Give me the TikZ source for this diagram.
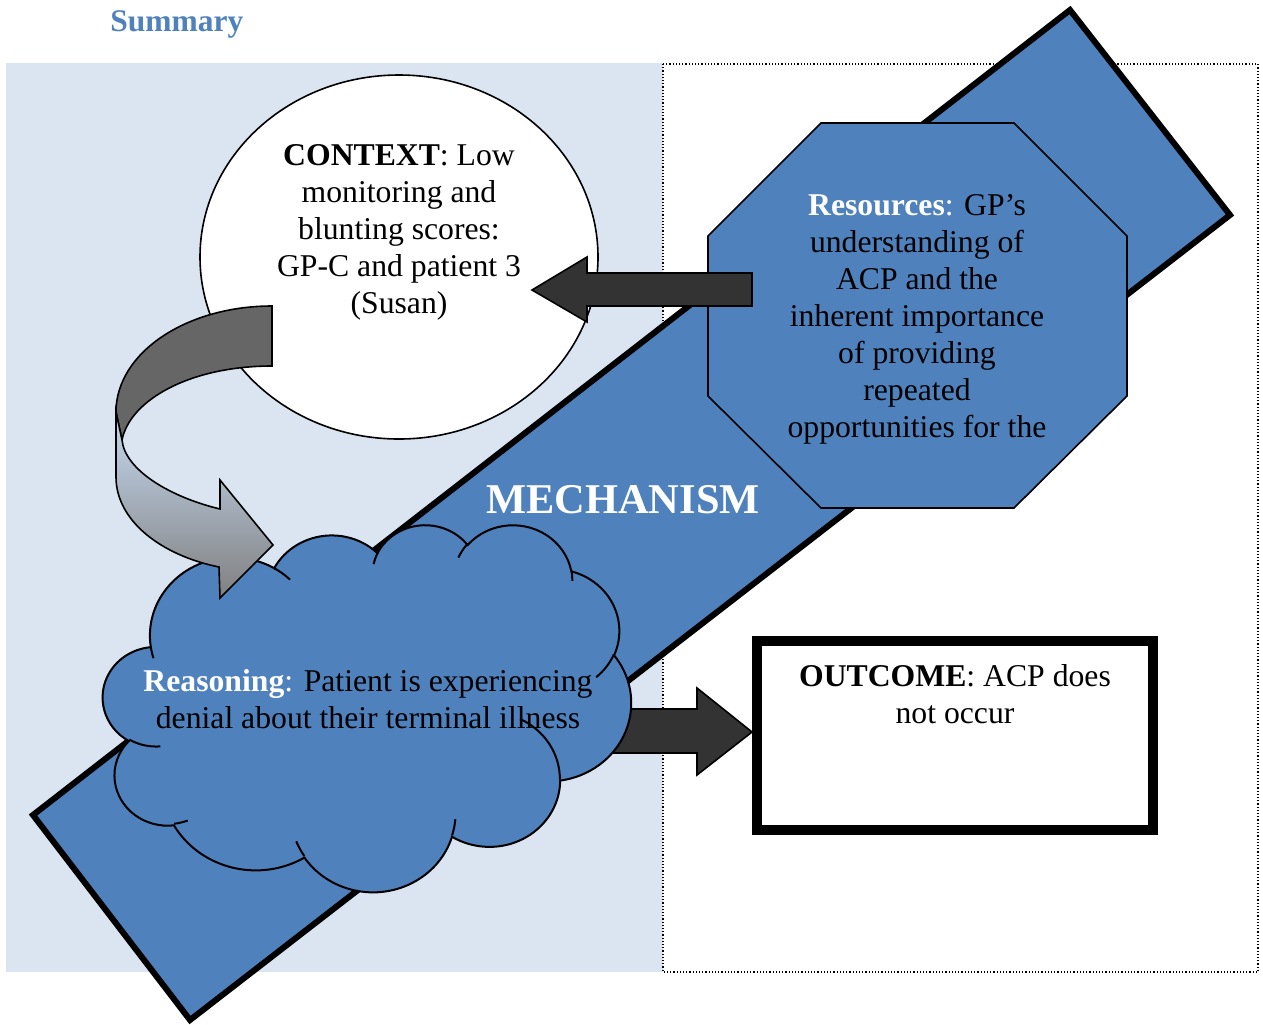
\documentclass[tikz,border=0pt]{standalone}
\usepackage{fontspec}
\setmainfont{Liberation Serif}
\definecolor{panelblue}{RGB}{219,229,241}
\definecolor{mechblue}{RGB}{79,129,189}
\definecolor{arrowdark}{RGB}{51,51,51}
\definecolor{ribbonback}{RGB}{102,102,102}
\definecolor{ribbonlight}{RGB}{198,217,241}
\definecolor{ribbonmid}{RGB}{176,194,218}
\definecolor{ribbongray}{RGB}{128,128,128}
\begin{document}
\begin{tikzpicture}[x=0.5pt,y=-0.5pt,
  bodytext/.style={font=\fontsize{15.85}{18.5}\selectfont, align=center, inner sep=0pt, text=black},
  blockarrow/.style={fill=arrowdark, draw=black, line width=0.8pt, line join=miter},
  outline/.style={draw=black, line width=0.8pt},
  % one elliptical bump of the cloud outline (radii, start angle, sweep)
  cloudarc/.style n args={4}{insert path={arc[start angle={atan2((#1)*sin(#3),(#2)*cos(#3))},
      delta angle={mod(atan2((#1)*sin((#3)+(#4)),(#2)*cos((#3)+(#4)))-atan2((#1)*sin(#3),(#2)*cos(#3))+720,360)},
      x radius=#1, y radius=#2]}}
]
\useasboundingbox (0,0) rectangle (1263,1024);

% panels
\fill[panelblue] (6,63) rectangle (663,972);
\draw[densely dotted, line width=0.6pt, fill=white] (663,64) rectangle (1258,972);
\node[text=mechblue, font=\fontsize{15.75}{18}\selectfont\bfseries, anchor=base west, inner sep=0pt] (summary) at (110,31) {Summary};

% mechanism band
\draw[fill=mechblue, line width=3pt, line join=miter] (33,815) -- (1070,10) -- (1230,215) -- (190,1020) -- cycle;
\node[text=white, font=\fontsize{21.2}{24}\selectfont\bfseries, inner sep=0pt, anchor=base] (mech) at (623,513) {MECHANISM};

% context
\draw[fill=white, outline] (399,257) ellipse [x radius=199, y radius=182];
\node[bodytext] (ctx) at (399,232) {\textbf{CONTEXT}: Low\\monitoring and\\blunting scores:\\GP-C and patient 3\\(Susan)};

% resources
\draw[fill=mechblue, outline] (821,123) -- (1014,123) -- (1127,236) -- (1127,396) -- (1014,508) -- (821,508) -- (708,396) -- (708,236) -- cycle;
\node[bodytext] (res) at (917,319) {\textcolor{white}{\textbf{Resources}:} GP’s\\understanding of\\ACP and the\\inherent importance\\of providing\\repeated\\opportunities for the};

% resources -> context
\draw[blockarrow] (752,273) -- (752,306) -- (587,306) -- (587,322) -- (532,290) -- (587,257) -- (587,273) -- cycle;

% reasoning -> outcome
\draw[blockarrow] (600,709) -- (697,709) -- (697,688) -- (752,732) -- (697,775) -- (697,753) -- (600,753) -- cycle;

% outcome
\draw[line width=5pt, fill=white] (757,641) rectangle (1153,829.5);
\node[bodytext] (outcome) at (955,694) {\textbf{OUTCOME}: ACP does\\not occur};

% reasoning cloud
\begin{scope}[shift={(103,524)}, x=0.61111pt, y=-0.42477pt]
  \draw[fill=mechblue, line width=1pt] (39.00,143.70)
    [cloudarc={67.53}{91.90}{-190.4875}{123.7805}]
    [cloudarc={53.33}{72.67}{-144.1024}{89.9452}]
    [cloudarc={43.65}{59.45}{-145.8079}{99.7230}]
    [cloudarc={48.57}{65.95}{-130.9861}{117.2417}]
    [cloudarc={53.33}{72.73}{-78.7089}{109.0269}]
    [cloudarc={67.75}{92.20}{-46.2673}{130.2690}]
    [cloudarc={57.85}{78.67}{0.6250}{114.0333}]
    [cloudarc={67.52}{92.15}{22.4516}{115.1726}]
    [cloudarc={77.20}{105.43}{66.2426}{75.7110}]
    [cloudarc={43.60}{59.18}{-274.9421}{146.7356}]
    [cloudarc={43.45}{59.45}{-246.8285}{152.5189}] -- cycle;
  \draw[line width=1pt]
    (46.93,261.77) [cloudarc={43.45}{59.45}{86.7420}{26.4295}]
    (69.28,348.99) [cloudarc={43.60}{59.18}{73.6105}{11.4475}]
    (164.78,390.90) [cloudarc={67.52}{92.15}{137.6242}{14.0811}]
    (288.27,347.51) [cloudarc={67.52}{92.15}{6.4533}{15.9984}]
    (341.29,229.54) [cloudarc={57.85}{78.67}{-70.2924}{70.9174}]
    (417.98,153.54) [cloudarc={53.33}{72.73}{30.3180}{27.7515}]
    (383.24,54.26) [cloudarc={48.57}{65.95}{-13.7443}{14.8604}]
    (290.78,39.52) [cloudarc={48.57}{65.95}{-149.1815}{18.1843}]
    (221.41,47.20) [cloudarc={43.65}{59.45}{-163.4943}{17.6976}]
    (140.00,51.92) [cloudarc={67.53}{91.90}{-66.7070}{12.3194}]
    (41.27,157.89) [cloudarc={67.53}{91.90}{157.6544}{11.8582}];
\end{scope}
\node[bodytext] (reason) at (368,699) {\textcolor{white}{\textbf{Reasoning}:} Patient is experiencing\\denial about their terminal illness};

% curved ribbon arrow from context to reasoning
\draw[outline, fill=ribbonback] (272,306) .. controls (186,306) and (116,353) .. (116,412) -- (122,440) .. controls (130,400) and (190,366) .. (272,366) -- cycle;
\draw[outline, top color=ribbonlight, middle color=ribbonmid, bottom color=ribbongray] (116,412) -- (116,477) .. controls (116,520) and (160,555) .. (219,567) -- (220,598) -- (273,545) -- (220,480) -- (220,509) .. controls (170,497) and (125,470) .. (122,440) -- cycle;
\end{tikzpicture}
\end{document}
